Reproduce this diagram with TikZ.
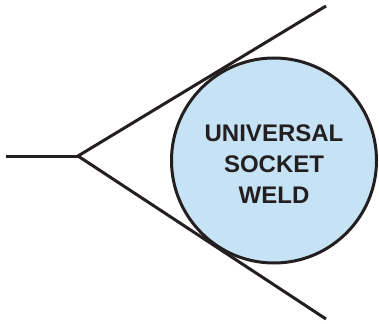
\documentclass[tikz,border=0pt]{standalone}
\usepackage{fontspec}
\setmainfont{Liberation Sans}
\usepackage{tikz}
\definecolor{weldblue}{RGB}{198,227,245}
\definecolor{inkblack}{RGB}{35,31,32}

\begin{document}
\begin{tikzpicture}[x=1pt, y=-1pt, every node/.style={font=\fontsize{24}{31}\selectfont\bfseries, text=inkblack},
	pipe/.style={draw=inkblack, line width=3pt, line cap=butt, line join=miter}]
	\useasboundingbox (0,0) rectangle (379,323);
	\coordinate (tail) at (6,156);
	\coordinate (apex) at (78,156);
	\coordinate (upper) at (326,6);
	\coordinate (lower) at (326,319);
	\draw[pipe] (tail) -- (apex);
	\draw[pipe] (upper) -- (apex) -- (lower);
	\node[pipe, circle, fill=weldblue, minimum size=205pt, inner sep=0pt] (weld) at (274,160.5) {};
	\node[align=center, inner sep=0pt] (weldlabel) at (274,164.5) {UNIVERSAL\\SOCKET\\WELD};
\end{tikzpicture}
\end{document}
